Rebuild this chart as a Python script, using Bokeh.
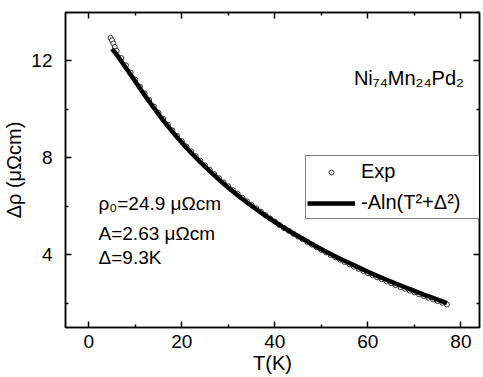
from bokeh.plotting import figure
from bokeh.models import (Range1d, LinearAxis, FixedTicker, Label, Legend, LegendItem,
                          CustomLabelingPolicy)
from bokeh.embed import file_html
from bokeh.resources import INLINE

# ---- data ----
T_exp = [4.7, 5.0, 5.3, 5.6, 6, 7, 8, 9, 10, 11, 12, 13, 14, 15, 16, 17, 18, 19, 20,
         21, 22, 23, 24, 25, 26, 27, 28, 29, 30, 31, 32, 33, 34, 35, 36, 37, 38, 39, 40,
         41, 42, 43, 44, 45, 46, 47, 48, 49, 50, 51, 52, 53, 54, 55, 56, 57, 58, 59, 60,
         61, 62, 63, 64, 65, 66, 67, 68, 69, 70, 71, 72, 73, 74, 75, 76, 77]
rho_exp = [12.95, 12.85, 12.72, 12.58, 12.42, 12.12, 11.82, 11.52, 11.23, 10.94, 10.66,
           10.39, 10.12, 9.86, 9.61, 9.37, 9.13, 8.91, 8.69, 8.47, 8.27, 8.07, 7.88, 7.69,
           7.51, 7.33, 7.16, 6.99, 6.83, 6.67, 6.51, 6.36, 6.21, 6.06, 5.92, 5.78, 5.64,
           5.50, 5.37, 5.23, 5.10, 4.99, 4.87, 4.75, 4.64, 4.53, 4.42, 4.31, 4.20, 4.10,
           3.99, 3.90, 3.80, 3.70, 3.61, 3.51, 3.42, 3.33, 3.24, 3.16, 3.07, 2.99, 2.91,
           2.83, 2.75, 2.67, 2.60, 2.52, 2.45, 2.37, 2.30, 2.23, 2.16, 2.09, 2.02, 1.95]

T_fit = [5, 6, 7, 8, 9, 10, 12, 14, 16, 18, 20, 22, 24, 26, 28, 30, 32, 34, 36, 38, 40,
         42, 44, 46, 48, 50, 52, 54, 56, 58, 60, 62, 64, 66, 68, 70, 72, 74, 76, 77]
rho_fit = [12.50, 12.26, 11.99, 11.71, 11.43, 11.15, 10.59, 10.06, 9.55, 9.07, 8.63,
           8.21, 7.82, 7.45, 7.10, 6.77, 6.46, 6.16, 5.88, 5.61, 5.36, 5.11, 4.88, 4.66,
           4.44, 4.23, 4.03, 3.84, 3.66, 3.48, 3.30, 3.13, 2.97, 2.81, 2.66, 2.51, 2.36,
           2.22, 2.08, 2.01]

x_ticks = [0, 20, 40, 60, 80]
x_minor = [-10, 10, 30, 50, 70, 90]
y_ticks = [4, 8, 12]
y_minor = [2, 6, 10, 14]

FONT = "Liberation Sans"

p = figure(width=483, height=377, output_backend="svg", toolbar_location=None,
           x_range=Range1d(-5, 84), y_range=Range1d(1, 14),
           min_border_left=61, min_border_right=1, min_border_top=12, min_border_bottom=50)
p.xgrid.visible = False
p.ygrid.visible = False
p.outline_line_color = "black"
p.outline_line_width = 1.5
p.background_fill_color = "white"
p.border_fill_color = "white"

bottom_ax = p.below[0]
left_ax = p.left[0]
top_ax = LinearAxis()
right_ax = LinearAxis()
p.add_layout(top_ax, "above")
p.add_layout(right_ax, "right")

hide_all = CustomLabelingPolicy(code="""
    for (let i = 0; i < indices.size; i++) { indices.unset(i) }
    return indices
""")


def style(ax, ticks, minor, show_labels):
    ax.ticker = FixedTicker(ticks=ticks, minor_ticks=minor)
    ax.major_tick_in = 6
    ax.major_tick_out = 0
    ax.minor_tick_in = 3
    ax.minor_tick_out = 0
    ax.axis_line_width = 1.5
    ax.major_tick_line_width = 1.5
    ax.minor_tick_line_width = 1.5
    ax.axis_line_color = "black"
    ax.major_tick_line_color = "black"
    ax.minor_tick_line_color = "black"
    if show_labels:
        ax.major_label_text_font = FONT
        ax.major_label_text_font_size = "19px"
        ax.major_label_text_color = "black"
    else:
        ax.major_label_policy = hide_all
        ax.major_label_text_font_size = "1px"
        ax.major_label_standoff = 0


style(bottom_ax, x_ticks, x_minor, True)
style(left_ax, y_ticks, y_minor, True)
style(top_ax, x_ticks, x_minor, False)
style(right_ax, y_ticks, y_minor, False)

bottom_ax.major_label_standoff = 7
left_ax.major_label_standoff = 13
bottom_ax.axis_label = "T(K)"
left_ax.axis_label = "Δρ (μΩcm)"
for ax in (bottom_ax, left_ax):
    ax.axis_label_text_font = FONT
    ax.axis_label_text_font_size = "20px"
    ax.axis_label_text_font_style = "normal"
    ax.axis_label_text_color = "black"
bottom_ax.axis_label_standoff = 1
left_ax.axis_label_standoff = 3

r_exp = p.scatter(T_exp, rho_exp, marker="circle", size=5, fill_color="white",
                  line_color="black", line_width=0.8)
r_fit = p.line(T_fit, rho_fit, line_color="black", line_width=4.5)

legend = Legend(items=[LegendItem(label="Exp", renderers=[r_exp]),
                       LegendItem(label="-Aln(T²+Δ²)", renderers=[r_fit])],
                location=(240, 108))
legend.border_line_color = "black"
legend.border_line_width = 1.2
legend.background_fill_color = "white"
legend.background_fill_alpha = 1
legend.padding = 1
legend.margin = 0
legend.spacing = 2
legend.glyph_width = 48
legend.glyph_height = 12
legend.label_height = 29
legend.label_width = 123
legend.label_standoff = 6
legend.label_text_font = FONT
legend.label_text_font_size = "20px"
legend.label_text_color = "black"
p.add_layout(legend)

ann = [("ρ₀=24.9 μΩcm", 2.1, 6.12), ("A=2.63 μΩcm", 2.1, 4.87), ("Δ=9.3K", 2.1, 3.88)]
for txt, xx, yy in ann:
    p.add_layout(Label(x=xx, y=yy, text=txt, text_font=FONT, text_font_size="19px",
                       text_color="black", text_baseline="alphabetic"))

p.add_layout(Label(x=57, y=11.3, text="Ni₇₄Mn₂₄Pd₂", text_font=FONT,
                   text_font_size="20px", text_color="black",
                   text_baseline="alphabetic"))

open("out.html", "w").write(file_html(p, INLINE))
